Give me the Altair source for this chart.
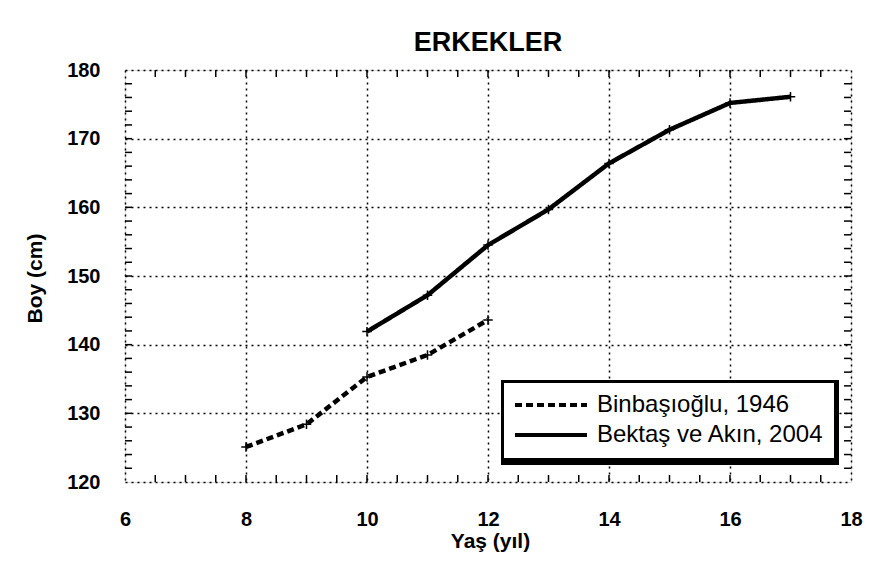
import altair as alt
import pandas as pd

# --- data ---
seri_names = ["Binbaşıoğlu, 1946", "Bektaş ve Akın, 2004"]
yas_binbasi = [8, 9, 10, 11, 12]
boy_binbasi = [125.1, 128.4, 135.3, 138.5, 143.6]
yas_bektas = [10, 11, 12, 13, 14, 15, 16, 17]
boy_bektas = [141.9, 147.2, 154.5, 159.7, 166.4, 171.3, 175.2, 176.1]

x_tick_labels = [6, 8, 10, 12, 14, 16, 18]
y_tick_labels = [120, 130, 140, 150, 160, 170, 180]
x_minor = [6.5, 7, 7.5, 8, 8.5, 9, 9.5, 10, 10.5, 11, 11.5, 12, 12.5, 13, 13.5,
           14, 14.5, 15, 15.5, 16, 16.5, 17, 17.5]
y_minor = [122, 124, 126, 128, 130, 132, 134, 136, 138, 140, 142, 144, 146, 148,
           150, 152, 154, 156, 158, 160, 162, 164, 166, 168, 170, 172, 174, 176, 178]

df = pd.concat([
    pd.DataFrame({"yas": yas_binbasi, "boy": boy_binbasi, "seri": seri_names[0]}),
    pd.DataFrame({"yas": yas_bektas, "boy": boy_bektas, "seri": seri_names[1]}),
], ignore_index=True)

W, H = 726, 412
FONT = "Liberation Sans"

xscale = alt.Scale(domain=[6, 18], nice=False, zero=False)
yscale = alt.Scale(domain=[120, 180], nice=False, zero=False)

x_enc = alt.X("yas:Q", scale=xscale, axis=alt.Axis(
    values=x_tick_labels, format="d", title="Yaş (yıl)", ticks=False, domain=False,
    labelFontSize=20, labelFont=FONT, labelFontWeight="bold", labelColor="black",
    labelPadding=27, labelFlush=False,
    grid=True, gridColor="black", gridDash=[2, 4], gridWidth=1.5, gridOpacity=1,
    titleFont=FONT, titleFontSize=21, titleFontWeight="bold", titleColor="black",
    titleX=365, titleY=65, titleBaseline="alphabetic", titleAlign="center", titleAnchor="middle"))
y_enc = alt.Y("boy:Q", scale=yscale, axis=alt.Axis(
    values=y_tick_labels, format="d", title="Boy (cm)", ticks=False, domain=False,
    labelFontSize=20, labelFont=FONT, labelFontWeight="bold", labelColor="black",
    labelPadding=25, labelFlush=False,
    grid=True, gridColor="black", gridDash=[2, 4], gridWidth=1.5, gridOpacity=1,
    titleFont=FONT, titleFontSize=21, titleFontWeight="bold", titleColor="black",
    titleX=-90, titleY=208, titleAngle=270, titleBaseline="middle", titleAlign="center"))

lines = alt.Chart(df).mark_line(strokeWidth=4.5, color="black").encode(
    x=x_enc, y=y_enc,
    strokeDash=alt.StrokeDash("seri:N", scale=alt.Scale(domain=seri_names, range=[[7, 4], [1, 0]]),
                              legend=alt.Legend(
                                  title=None, orient="none", legendX=378, legendY=312,
                                  fillColor="white", strokeColor="black", padding=10,
                                  labelFont=FONT, labelFontSize=24, labelColor="black",
                                  labelLimit=400, labelOffset=8, rowPadding=4,
                                  clipHeight=26, symbolType="stroke",
                                  symbolSize=5184, symbolStrokeWidth=4, symbolStrokeColor="black",
                                  cornerRadius=0)),
)

points = alt.Chart(df).mark_point(shape="M-1,0H1M0,-1V1", size=90, color="black",
                                  strokeWidth=1.5, opacity=1).encode(
    x="yas:Q", y="boy:Q")

left_ticks = alt.Chart(pd.DataFrame({"boy": y_minor})).mark_rule(color="black", strokeWidth=1.5).encode(
    y="boy:Q", x=alt.value(0), x2=alt.value(7))
right_ticks = alt.Chart(pd.DataFrame({"boy": y_minor})).mark_rule(color="black", strokeWidth=1.5).encode(
    y="boy:Q", x=alt.value(W), x2=alt.value(W - 7))
bottom_ticks = alt.Chart(pd.DataFrame({"yas": x_minor})).mark_rule(color="black", strokeWidth=1.5).encode(
    x="yas:Q", y=alt.value(H), y2=alt.value(H - 7))
top_ticks = alt.Chart(pd.DataFrame({"yas": x_minor})).mark_rule(color="black", strokeWidth=1.5).encode(
    x="yas:Q", y=alt.value(0), y2=alt.value(7))

shadow = alt.Chart(pd.DataFrame({"k": [0]})).mark_rect(color="black").encode(
    x=alt.value(376), x2=alt.value(714), y=alt.value(310), y2=alt.value(395))

chart = alt.layer(left_ticks, right_ticks, bottom_ticks, top_ticks, lines, points, shadow).properties(
    width=W, height=H,
    title=alt.TitleParams("ERKEKLER", font=FONT, fontSize=27, fontWeight="bold", color="black",
                          anchor="middle", frame="group", baseline="alphabetic", offset=20, dy=38),
    autosize=alt.AutoSizeParams(type="none"),
    padding={"left": 117, "top": 62, "right": 30, "bottom": 70},
).configure_view(stroke="black", strokeWidth=2).configure(background="white")

chart.save("out.html", embed_options={"renderer": "svg", "actions": False})
